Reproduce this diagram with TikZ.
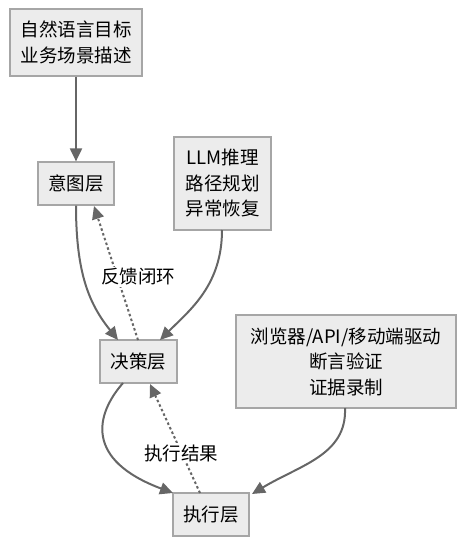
\documentclass[tikz,border=0pt]{standalone}
\usepackage{fontspec}
\setmainfont{Noto Sans CJK SC}
\usetikzlibrary{arrows.meta}
\definecolor{boxfill}{HTML}{ECECEC}
\definecolor{boxline}{HTML}{A6A6A6}
\definecolor{edgecol}{HTML}{666666}
\begin{document}
\begin{tikzpicture}[x=1pt,y=-1pt,
  box/.style={draw=boxline,fill=boxfill,line width=1.2pt,inner sep=0pt,align=center,
     font=\fontsize{18.5}{25.5}\selectfont},
  conn/.style={draw=edgecol,line width=2pt,-{Triangle[length=13pt,width=12pt]}},
  fb/.style={draw=edgecol,line width=2pt,dash pattern=on 2.5pt off 2.5pt,-{Triangle[length=13pt,width=12pt]}},
  lbl/.style={fill=white,inner sep=1pt,font=\fontsize{18.5}{20}\selectfont}]
\useasboundingbox (0,0) rectangle (465,546);
\node[box,minimum width=132pt,minimum height=67pt] (goal) at (76,42.5) {自然语言目标\\业务场景描述};
\node[box,minimum width=76pt,minimum height=43pt] (intent) at (76,183.5) {意图层};
\node[box,minimum width=97pt,minimum height=93pt] (llm) at (222.5,183.5) {LLM推理\\路径规划\\异常恢复};
\node[box,minimum width=77pt,minimum height=43pt] (decide) at (138.5,361.5) {决策层};
\node[box,minimum width=220pt,minimum height=93pt] (browser) at (346,361.5) {浏览器/API/移动端驱动\\断言验证\\证据录制};
\node[box,minimum width=76pt,minimum height=43pt] (exec) at (211,514.5) {执行层};
\coordinate (d1) at (118,340);
\coordinate (d2) at (160,340);
\coordinate (d3) at (138,340);
\coordinate (i1) at (94,206);
\coordinate (e1) at (173,493);
\coordinate (e2) at (252,494);
\coordinate (e3) at (200,493);
\coordinate (d4) at (150,384);
\coordinate (d5) at (123,383);
\coordinate (l1) at (222,230);
\coordinate (b1) at (345,408);
\draw[conn] (goal.south) -- (intent.north);
\draw[conn] (intent.south) .. controls (76,275) and (90,305) .. (d1);
\draw[conn] (l1) .. controls (222,285) and (190,310) .. (d2);
\draw[fb] (d3) -- (i1);
\node[lbl] (fbl) at (138,277) {反馈闭环};
\draw[conn] (d5) .. controls (95,415) and (85,460) .. (e1);
\draw[conn] (b1) .. controls (347,455) and (300,465) .. (e2);
\draw[fb] (e3) -- (d4);
\node[lbl] (erl) at (181,453) {执行结果};
\end{tikzpicture}
\end{document}
